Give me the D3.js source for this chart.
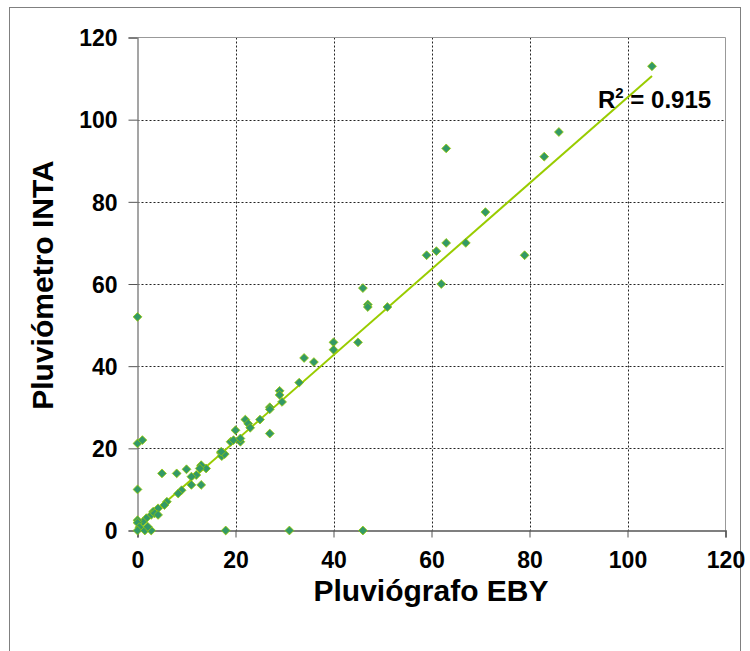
<!DOCTYPE html>
<html><head><meta charset="utf-8">
<script src="https://cdn.jsdelivr.net/npm/d3@7"></script>
<style>body{margin:0;background:#fff}svg{display:block}</style>
</head><body>
<svg id="c" width="750" height="651"></svg>
<script>
// Data
const xValues = [105,86,83,63,71,67,63,61,59,79,62,46,47,47,51,45,40,40,34,36,33,29,29,29.5,27,27,25,22,22.6,23,27,20,19,19.6,21,21,17,17.2,17.8,17.1,13,14,0,1,0,5,8,10,13,12.7,12,11,11,13,9,8.3,6,5.5,4.2,3.2,2.8,1.8,1.1,0,0,0.4,0,1.5,2.8,2.1,3.5,4.2,0,31,46,18];
const yValues = [113,97,91,93,77.5,70,70,68,67,67,60,59,55,54.4,54.4,45.8,45.8,44,42,41,36,34,33,31.3,30,29.5,27,27,26,25,23.6,24.4,21.6,22,21.6,22.4,18.9,18.1,18.6,19.2,15.7,15.1,21.2,22,10,13.9,13.9,14.9,15.9,15.1,13.5,13.1,11.1,11.1,9.8,9,7,6.2,5.4,4.6,3.8,3,2.1,2.5,1.9,0.8,0,0,0,0.9,4.2,3.8,52,0,0,0];
const xTicks = [0,20,40,60,80,100,120];
const yTicks = [0,20,40,60,80,100,120];
const trendSlope = 1.045, trendIntercept = 0.9;
const trendRange = [0,105];
const r2Label = "0.915";
const xTitle = "Pluviógrafo EBY";
const yTitle = "Pluviómetro INTA";

const svg = d3.select("#c");
const font = "'Liberation Sans', Arial, sans-serif";
// outer border
svg.append("rect").attr("x",9.5).attr("y",7.5).attr("width",731).attr("height",660)
  .attr("fill","#fff").attr("stroke","#808080").attr("stroke-width",1);

const L=137.5, R=725.5, T=37.5, B=530.5;
const x = d3.scaleLinear().domain([0,120]).range([L,R]);
const y = d3.scaleLinear().domain([0,120]).range([B,T]);

// grid
const g = svg.append("g");
g.selectAll(".vg").data(xTicks.filter(d=>d>0 && d<120)).enter().append("line")
  .attr("x1",d=>Math.round(x(d))+0.5).attr("x2",d=>Math.round(x(d))+0.5).attr("y1",T).attr("y2",B)
  .attr("stroke","#222").attr("stroke-dasharray","2,2").attr("stroke-width",1);
g.selectAll(".hg").data(yTicks.filter(d=>d>0 && d<120)).enter().append("line")
  .attr("y1",d=>Math.round(y(d))+0.5).attr("y2",d=>Math.round(y(d))+0.5).attr("x1",L).attr("x2",R)
  .attr("stroke","#222").attr("stroke-dasharray","2,2").attr("stroke-width",1);
// plot frame top/right
svg.append("line").attr("x1",L).attr("x2",R).attr("y1",T).attr("y2",T).attr("stroke","#999");
svg.append("line").attr("x1",R).attr("x2",R).attr("y1",T).attr("y2",B).attr("stroke","#999");

// axes
const xAxis = svg.append("g").attr("transform",`translate(0,${B})`)
  .call(d3.axisBottom(x).tickValues(xTicks).tickSize(7).tickPadding(14).tickFormat(d3.format("d")));
const yAxis = svg.append("g").attr("transform",`translate(${L},0)`)
  .call(d3.axisLeft(y).tickValues(yTicks).tickSize(9).tickPadding(11).tickFormat(d3.format("d")));
xAxis.select(".domain").attr("stroke","#555").attr("stroke-width",1.5);
yAxis.select(".domain").attr("stroke","#888").attr("stroke-width",1.5);
[xAxis,yAxis].forEach(a=>{
  a.selectAll(".tick line").attr("stroke","#555");
  a.selectAll("text").attr("font-family",font).attr("font-weight","bold").attr("font-size","23px").attr("fill","#000");
});
yAxis.selectAll("text").attr("dy","0.36em");

// trendline
svg.append("line")
  .attr("x1",x(trendRange[0])).attr("y1",y(trendSlope*trendRange[0]+trendIntercept))
  .attr("x2",x(trendRange[1])).attr("y2",y(trendSlope*trendRange[1]+trendIntercept))
  .attr("stroke","#99CC00").attr("stroke-width",2);

// points
const pts = xValues.map((v,i)=>[v,yValues[i]]);
svg.append("g").selectAll("path").data(pts).enter().append("path")
  .attr("d", d3.symbol().type(d3.symbolDiamond2).size(50))
  .attr("transform",d=>`translate(${x(d[0])},${y(d[1])})`)
  .attr("fill","#339966").attr("stroke","#99CC00").attr("stroke-width",0.8);

// R2 label
const rt = svg.append("text").attr("x",598).attr("y",108).attr("font-family",font)
  .attr("font-weight","bold").attr("font-size","24px").attr("fill","#000");
rt.append("tspan").text("R");
rt.append("tspan").attr("dy",-10).attr("font-size","15px").text("2");
rt.append("tspan").attr("dy",10).text(" = " + r2Label);

// titles
svg.append("text").attr("x",431).attr("y",601).attr("text-anchor","middle")
  .attr("font-family",font).attr("font-weight","bold").attr("font-size","30px").text(xTitle);
svg.append("text").attr("transform","translate(53,285) rotate(-90)").attr("text-anchor","middle")
  .attr("font-family",font).attr("font-weight","bold").attr("font-size","30px").text(yTitle);
</script>
</body></html>
